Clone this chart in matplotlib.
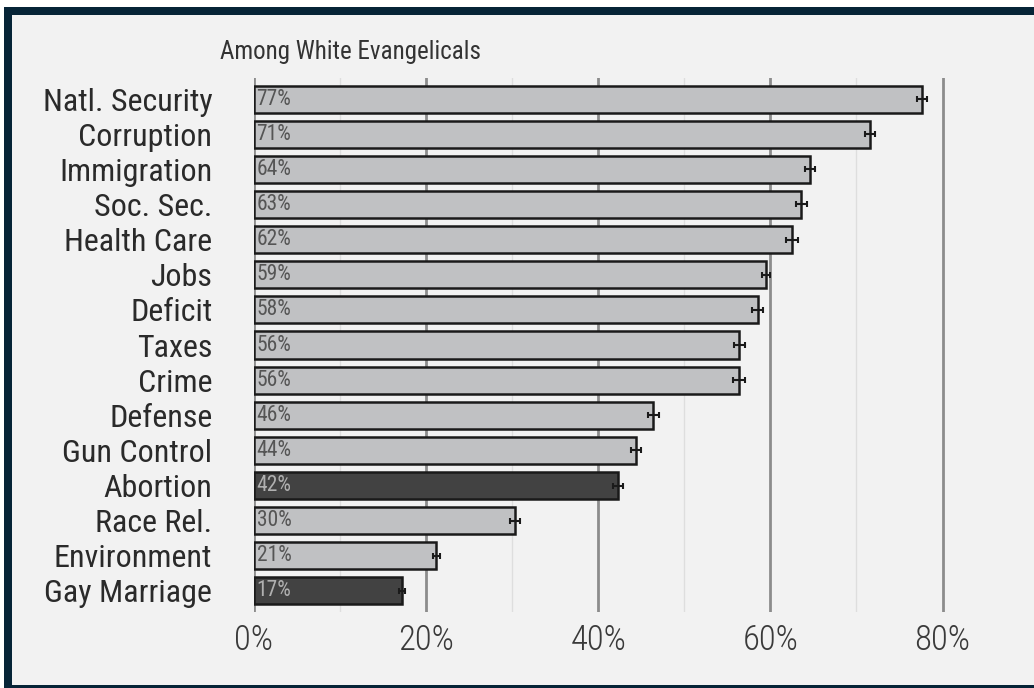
import matplotlib
matplotlib.use('Agg')
from matplotlib import pyplot as plt
from matplotlib.patches import Rectangle
from matplotlib.ticker import MultipleLocator, FuncFormatter

# issue importance among white evangelicals
issues = ['Natl. Security', 'Corruption', 'Immigration', 'Soc. Sec.', 'Health Care',
          'Jobs', 'Deficit', 'Taxes', 'Crime', 'Defense', 'Gun Control',
          'Abortion', 'Race Rel.', 'Environment', 'Gay Marriage']
values = [77.6, 71.6, 64.6, 63.6, 62.5, 59.5, 58.5, 56.4, 56.4, 46.4, 44.4,
          42.3, 30.3, 21.2, 17.2]
value_labels = ['77%', '71%', '64%', '63%', '62%', '59%', '58%', '56%', '56%',
                '46%', '44%', '42%', '30%', '21%', '17%']
errors = [0.6, 0.6, 0.6, 0.6, 0.7, 0.5, 0.6, 0.6, 0.7, 0.6, 0.6, 0.6, 0.6, 0.4, 0.4]
highlight = ['Abortion', 'Gay Marriage']

NAVY = '#062437'
BG = '#f2f2f2'
LIGHT_BAR = '#c0c1c3'
DARK_BAR = '#424242'

plt.rcParams['font.family'] = ['Roboto Condensed', 'DejaVu Sans']

W, H = 1034, 688
fig = plt.figure(figsize=(W / 100, H / 100), dpi=100, facecolor='white')

# navy frame with light panel inside
fig.patches.append(Rectangle((4 / W, 0), 1, 1 - 7 / H, transform=fig.transFigure,
                             facecolor=NAVY, edgecolor='none', zorder=-2))
fig.patches.append(Rectangle((12 / W, 3 / H), 1, 1 - 18 / H, transform=fig.transFigure,
                             facecolor=BG, edgecolor='none', zorder=-1))

x0, x1 = 254, 977
y_top, y_bot = 78, 612
ax = fig.add_axes([x0 / W, 1 - y_bot / H, (x1 - x0) / W, (y_bot - y_top) / H])
ax.set_facecolor(BG)

ypos = list(range(len(issues)))
colors = [DARK_BAR if i in highlight else LIGHT_BAR for i in issues]
ax.barh(ypos, values, height=0.77, color=colors, edgecolor='#1a1a1a',
        linewidth=1.8, zorder=2)
ax.errorbar(values, ypos, xerr=errors, fmt='none', ecolor='#1a1a1a',
            elinewidth=1.5, capsize=2.5, capthick=1.5, zorder=3)

for y, lab, c in zip(ypos, value_labels, colors):
    tc = '#b0b0b0' if c == DARK_BAR else '#555555'
    ax.text(0.3, y, lab, ha='left', va='center', fontsize=15.5, color=tc, zorder=4)

ax.set_xlim(0, 84)
ax.set_ylim(len(issues) - 0.4, -0.6)
ax.xaxis.set_major_locator(MultipleLocator(20))
ax.xaxis.set_minor_locator(MultipleLocator(10))
ax.xaxis.set_major_formatter(FuncFormatter(lambda v, p: '%d%%' % v))
ax.grid(axis='x', which='major', color='#8c8c8c', linewidth=2, zorder=0)
ax.grid(axis='x', which='minor', color='#dedede', linewidth=1, zorder=0)
ax.set_axisbelow(True)

ax.set_yticks(ypos)
ax.set_yticklabels(issues)
ax.tick_params(axis='y', length=0, pad=30, labelsize=23, labelcolor='#2a2a2a')
ax.tick_params(axis='x', which='both', length=0, pad=8, labelsize=25, labelcolor='#3a3a3a')
for lab in ax.get_xticklabels():
    lab.set_fontweight('light')
for s in ax.spines.values():
    s.set_visible(False)

fig.text(220 / W, 1 - 52 / H, 'Among White Evangelicals', ha='left', va='center',
         fontsize=18, color='#333333')

fig.savefig('out.png', dpi=100, facecolor=fig.get_facecolor())
